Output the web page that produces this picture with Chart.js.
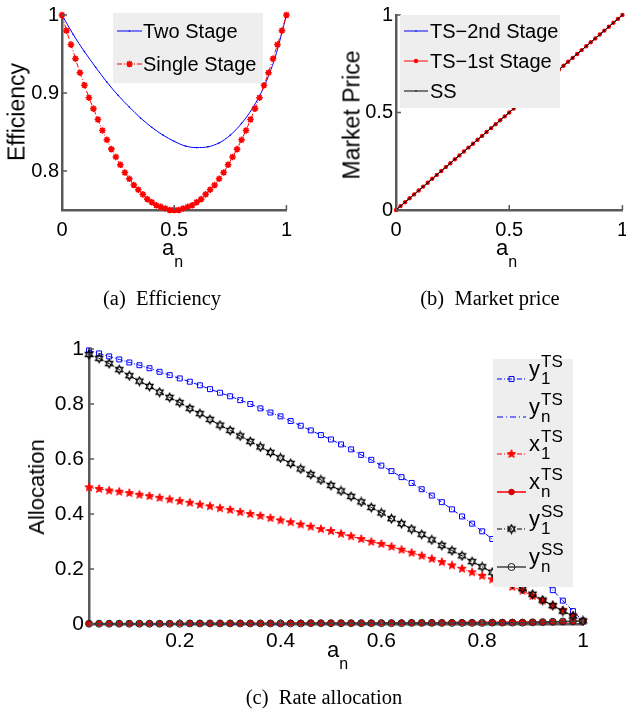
<!DOCTYPE html>
<html>
<head>
<meta charset="utf-8">
<script src="https://cdn.jsdelivr.net/npm/chart.js@4.4.1/dist/chart.umd.min.js"></script>
<style>
body{margin:0;background:#fff;width:626px;height:711px;position:relative;overflow:hidden;font-family:"Liberation Sans",Arial,sans-serif}
canvas{position:absolute}
.lab{position:absolute;color:#000;white-space:nowrap;line-height:1}
.rot{transform:translate(-50%,-50%) rotate(-90deg)}
.xt{font-size:22px}
.xt sub{font-size:16px;vertical-align:-12px;line-height:1}
.cap{position:absolute;font-family:"Liberation Serif","Times New Roman",serif;font-size:20.5px;line-height:1;transform:translateX(-50%);white-space:pre;color:#000}
</style>
</head>
<body>
<canvas id="effChart" width="300" height="245" style="left:0;top:0"></canvas>
<canvas id="priceChart" width="318" height="245" style="left:318px;top:0"></canvas>
<canvas id="allocChart" width="626" height="330" style="left:0;top:330px"></canvas>

<div class="lab rot" style="left:17px;top:112px;font-size:23px">Efficiency</div>
<div class="lab xt" style="left:162px;top:237px">a<sub>n</sub></div>
<div class="cap" style="left:162px;top:288px">(a)  Efficiency</div>

<div class="lab rot" style="left:352px;top:115px;font-size:23px">Market Price</div>
<div class="lab xt" style="left:496px;top:237px">a<sub>n</sub></div>
<div class="cap" style="left:490px;top:288px">(b)  Market price</div>

<div class="lab rot" style="left:37px;top:487px;font-size:22px">Allocation</div>
<div class="lab xt" style="left:327px;top:639px">a<sub>n</sub></div>
<div class="cap" style="left:324px;top:687px">(c)  Rate allocation</div>

<script>
// (a) efficiency
const A_EFF = [0,0.02,0.04,0.06,0.08,0.1,0.12,0.14,0.16,0.18,0.2,0.22,0.24,0.26,0.28,0.3,0.32,0.34,0.36,0.38,0.4,0.42,0.44,0.46,0.48,0.5,0.52,0.54,0.56,0.58,0.6,0.62,0.64,0.66,0.68,0.7,0.72,0.74,0.76,0.78,0.8,0.82,0.84,0.86,0.88,0.9,0.92,0.94,0.96,0.98,1];
const SINGLE_STAGE = [1,0.98,0.962,0.944,0.926,0.91,0.894,0.88,0.866,0.852,0.84,0.828,0.818,0.808,0.798,0.79,0.782,0.776,0.77,0.764,0.76,0.756,0.754,0.752,0.75,0.75,0.75,0.752,0.754,0.756,0.76,0.764,0.77,0.776,0.782,0.79,0.798,0.808,0.818,0.828,0.84,0.852,0.866,0.88,0.894,0.91,0.926,0.944,0.962,0.98,1];
const A_TWO = [0,0.05,0.1,0.15,0.2,0.25,0.3,0.35,0.4,0.45,0.5,0.55,0.6,0.65,0.7,0.75,0.8,0.85,0.9,0.95,1];
const TWO_STAGE = [1,0.975,0.953,0.933,0.914,0.897,0.882,0.868,0.856,0.846,0.838,0.832,0.83,0.831,0.836,0.846,0.861,0.881,0.908,0.946,1];

// (b) market price
const A_PRICE = [0,0.02,0.04,0.06,0.08,0.1,0.12,0.14,0.16,0.18,0.2,0.22,0.24,0.26,0.28,0.3,0.32,0.34,0.36,0.38,0.4,0.42,0.44,0.46,0.48,0.5,0.52,0.54,0.56,0.58,0.6,0.62,0.64,0.66,0.68,0.7,0.72,0.74,0.76,0.78,0.8,0.82,0.84,0.86,0.88,0.9,0.92,0.94,0.96,0.98,1];
const TS2_PRICE = [0,0.02,0.04,0.06,0.08,0.1,0.12,0.14,0.16,0.18,0.2,0.22,0.24,0.26,0.28,0.3,0.32,0.34,0.36,0.38,0.4,0.42,0.44,0.46,0.48,0.5,0.52,0.54,0.56,0.58,0.6,0.62,0.64,0.66,0.68,0.7,0.72,0.74,0.76,0.78,0.8,0.82,0.84,0.86,0.88,0.9,0.92,0.94,0.96,0.98,1];
const TS1_PRICE = [0,0.02,0.04,0.06,0.08,0.1,0.12,0.14,0.16,0.18,0.2,0.22,0.24,0.26,0.28,0.3,0.32,0.34,0.36,0.38,0.4,0.42,0.44,0.46,0.48,0.5,0.52,0.54,0.56,0.58,0.6,0.62,0.64,0.66,0.68,0.7,0.72,0.74,0.76,0.78,0.8,0.82,0.84,0.86,0.88,0.9,0.92,0.94,0.96,0.98,1];
const SS_PRICE = [0,0.02,0.04,0.06,0.08,0.1,0.12,0.14,0.16,0.18,0.2,0.22,0.24,0.26,0.28,0.3,0.32,0.34,0.36,0.38,0.4,0.42,0.44,0.46,0.48,0.5,0.52,0.54,0.56,0.58,0.6,0.62,0.64,0.66,0.68,0.7,0.72,0.74,0.76,0.78,0.8,0.82,0.84,0.86,0.88,0.9,0.92,0.94,0.96,0.98,1];

// (c) rate allocation
const A_ALLOC = [0.02,0.04,0.06,0.08,0.1,0.12,0.14,0.16,0.18,0.2,0.22,0.24,0.26,0.28,0.3,0.32,0.34,0.36,0.38,0.4,0.42,0.44,0.46,0.48,0.5,0.52,0.54,0.56,0.58,0.6,0.62,0.64,0.66,0.68,0.7,0.72,0.74,0.76,0.78,0.8,0.82,0.84,0.86,0.88,0.9,0.92,0.94,0.96,0.98,1];
const Y1_TS = [0.995,0.984,0.973,0.962,0.951,0.941,0.930,0.917,0.905,0.893,0.881,0.868,0.854,0.841,0.828,0.814,0.800,0.784,0.769,0.755,0.738,0.721,0.704,0.687,0.671,0.653,0.635,0.615,0.597,0.576,0.556,0.534,0.513,0.490,0.467,0.443,0.417,0.391,0.365,0.337,0.309,0.281,0.252,0.222,0.190,0.157,0.123,0.085,0.047,0.011];
const YN_TS = [0,0,0,0,0,0,0,0,0,0,0,0,0,0,0,0,0,0,0,0,0.001,0.001,0.001,0.001,0.001,0.001,0.001,0.001,0.001,0.001,0.001,0.001,0.002,0.002,0.002,0.002,0.002,0.002,0.002,0.002,0.003,0.003,0.003,0.003,0.004,0.005,0.006,0.008,0.009,0.011];
const X1_TS = [0.497,0.491,0.485,0.481,0.476,0.470,0.465,0.459,0.453,0.447,0.441,0.434,0.428,0.421,0.415,0.407,0.400,0.393,0.385,0.377,0.370,0.362,0.354,0.345,0.338,0.328,0.319,0.309,0.299,0.291,0.281,0.270,0.259,0.248,0.237,0.225,0.213,0.201,0.188,0.175,0.162,0.149,0.135,0.121,0.102,0.085,0.068,0.050,0.030,0.011];
const XN_TS = [0.002,0.002,0.002,0.002,0.002,0.002,0.002,0.002,0.002,0.003,0.003,0.003,0.003,0.003,0.003,0.003,0.003,0.003,0.003,0.003,0.004,0.004,0.004,0.004,0.004,0.004,0.004,0.004,0.004,0.005,0.005,0.005,0.005,0.005,0.005,0.005,0.006,0.006,0.006,0.006,0.006,0.006,0.007,0.007,0.007,0.007,0.008,0.008,0.009,0.011];
const Y1_SS = [0.980,0.966,0.947,0.925,0.903,0.883,0.864,0.843,0.824,0.805,0.784,0.765,0.744,0.723,0.704,0.684,0.664,0.644,0.624,0.604,0.584,0.564,0.544,0.524,0.504,0.484,0.464,0.444,0.424,0.404,0.383,0.365,0.345,0.326,0.306,0.286,0.267,0.248,0.227,0.208,0.188,0.168,0.148,0.128,0.108,0.087,0.067,0.047,0.029,0.011];
const YN_SS = [0.001,0.001,0.001,0.001,0.001,0.001,0.001,0.001,0.001,0.001,0.002,0.002,0.002,0.002,0.002,0.002,0.002,0.002,0.002,0.002,0.002,0.002,0.003,0.003,0.003,0.003,0.003,0.003,0.003,0.003,0.003,0.003,0.004,0.004,0.004,0.004,0.004,0.004,0.004,0.004,0.005,0.005,0.005,0.005,0.006,0.007,0.008,0.009,0.010,0.011];

const TICKS_EFF_X = [0, 0.5, 1];
const TICKS_EFF_Y = [0.8, 0.9, 1];
const TICKS_PRICE = [0, 0.5, 1];
const TICKS_ALLOC_X = [0.2, 0.4, 0.6, 0.8, 1];
const TICKS_ALLOC_Y = [0, 0.2, 0.4, 0.6, 0.8, 1];

const FONT = 'Liberation Sans';
const AXIS_COLOR = '#5a5a5a';

function pairs(xs, ys) {
    return xs.map((x, i) => ({x: x, y: ys[i]}));
}

// star shaped marker drawn once on a small canvas
function starMarker(points, rOut, rIn, fill, stroke, lw) {
    const c = document.createElement('canvas');
    const s = Math.ceil(2 * rOut + 3);
    c.width = s; c.height = s;
    const g = c.getContext('2d');
    g.beginPath();
    for (let i = 0; i < points * 2; i++) {
        const r = i % 2 ? rIn : rOut;
        const ang = -Math.PI / 2 + i * Math.PI / points;
        g.lineTo(s / 2 + r * Math.cos(ang), s / 2 + r * Math.sin(ang));
    }
    g.closePath();
    if (fill) { g.fillStyle = fill; g.fill(); }
    if (stroke) { g.strokeStyle = stroke; g.lineWidth = lw || 1; g.stroke(); }
    return c;
}
const pentagram = starMarker(5, 4.3, 1.8, '#ff0000', '#ff0000');
const hexagram = starMarker(6, 4, 2.3, null, '#000000', 1.4);

function axis(min, max, ticks, size, pad, fontSize) {
    return {
        type: 'linear', min: min, max: max,
        afterBuildTicks: s => { s.ticks = ticks.map(v => ({value: v})); },
        afterFit: s => { if (s.isHorizontal()) s.height = size; else s.width = size; },
        grid: {display: false, drawTicks: false},
        border: {display: true, color: AXIS_COLOR, width: 2.5},
        ticks: {color: '#000', padding: pad, maxRotation: 0, autoSkip: false,
                font: {family: FONT, size: fontSize}, callback: v => String(v)}
    };
}

// MATLAB style inward tick marks
const inTicks = {
    id: 'inTicks',
    afterDatasetsDraw(chart) {
        const ctx = chart.ctx, area = chart.chartArea;
        ctx.save();
        ctx.strokeStyle = AXIS_COLOR;
        ctx.lineWidth = 1.5;
        ctx.beginPath();
        chart.scales.x.ticks.forEach(t => {
            const px = chart.scales.x.getPixelForValue(t.value);
            ctx.moveTo(px, area.bottom); ctx.lineTo(px, area.bottom - 5);
        });
        chart.scales.y.ticks.forEach(t => {
            const py = chart.scales.y.getPixelForValue(t.value);
            ctx.moveTo(area.left, py); ctx.lineTo(area.left + 5, py);
        });
        ctx.stroke();
        ctx.restore();
    }
};

// legend box inside the axes
const boxLegend = {
    id: 'boxLegend',
    afterDraw(chart, args, o) {
        if (!o.items) return;
        const ctx = chart.ctx;
        ctx.save();
        ctx.fillStyle = '#eeeeee';
        ctx.fillRect(o.x, o.y, o.w, o.h);
        o.items.forEach((it, i) => {
            const ds = chart.data.datasets[it.dataset];
            const y = o.rows[i];
            ctx.strokeStyle = ds.borderColor;
            ctx.lineWidth = ds.borderWidth;
            ctx.setLineDash(ds.borderDash || []);
            ctx.beginPath();
            ctx.moveTo(o.lineX0, y); ctx.lineTo(o.lineX1, y);
            ctx.stroke();
            ctx.setLineDash([]);
            if (ds.pointRadius > 0) {
                ctx.fillStyle = ds.pointBackgroundColor;
                ctx.strokeStyle = ds.pointBorderColor;
                ctx.lineWidth = ds.pointBorderWidth;
                Chart.helpers.drawPoint(ctx, {pointStyle: ds.pointStyle, radius: ds.pointRadius,
                    borderWidth: ds.pointBorderWidth, rotation: 0}, (o.lineX0 + o.lineX1) / 2, y);
            }
            ctx.fillStyle = '#000';
            if (it.text) {
                ctx.font = o.fontSize + 'px "' + FONT + '"';
                ctx.textBaseline = 'middle';
                ctx.fillText(it.text, o.textX, y + 1);
            } else {
                ctx.textBaseline = 'alphabetic';
                ctx.font = '22px "' + FONT + '"';
                ctx.fillText(it.base, o.textX, y - 3.5);
                ctx.font = '17px "' + FONT + '"';
                ctx.fillText(it.sup, o.textX + 12, y - 12);
                ctx.fillText(it.sub, o.textX + 12, y + 5);
            }
        });
        ctx.restore();
    }
};

const common = {
    responsive: false,
    animation: false,
    events: []
};

// (a) Efficiency
new Chart(document.getElementById('effChart').getContext('2d'), {
    type: 'line',
    data: {
        datasets: [{
            label: 'Two Stage',
            data: pairs(A_TWO, TWO_STAGE),
            borderColor: '#0000ff', borderWidth: 1,
            pointRadius: 0.8, pointStyle: 'circle', pointBackgroundColor: '#0000ff', pointBorderColor: '#0000ff', pointBorderWidth: 0,
            cubicInterpolationMode: 'monotone', clip: false, order: 2
        }, {
            label: 'Single Stage',
            data: pairs(A_EFF, SINGLE_STAGE),
            borderColor: '#ff0000', borderWidth: 1, borderDash: [5, 2, 1, 2],
            pointRadius: 3.3, pointStyle: 'star', pointBackgroundColor: '#ff0000', pointBorderColor: '#ff0000', pointBorderWidth: 1.6,
            clip: false, order: 1
        }]
    },
    options: Object.assign({}, common, {
        layout: {padding: {top: 13, right: 11, left: 0, bottom: 0}},
        scales: {
            x: axis(0, 1, TICKS_EFF_X, 35, 8, 20),
            y: axis(0.75, 1, TICKS_EFF_Y, 62, 3, 20)
        },
        plugins: {
            legend: {display: false}, tooltip: {enabled: false},
            boxLegend: {x: 113, y: 13, w: 150, h: 70, lineX0: 117, lineX1: 142, textX: 143, fontSize: 20,
                rows: [31, 64], items: [{dataset: 0, text: 'Two Stage'}, {dataset: 1, text: 'Single Stage'}]}
        }
    }),
    plugins: [inTicks, boxLegend]
});

// (b) Market price
new Chart(document.getElementById('priceChart').getContext('2d'), {
    type: 'line',
    data: {
        datasets: [{
            label: 'TS\u22122nd Stage',
            data: pairs(A_PRICE, TS2_PRICE),
            borderColor: '#0000ff', borderWidth: 1,
            pointRadius: 0.8, pointStyle: 'circle', pointBackgroundColor: '#0000ff', pointBorderColor: '#0000ff', pointBorderWidth: 0,
            clip: false, order: 3
        }, {
            label: 'TS\u22121st Stage',
            data: pairs(A_PRICE, TS1_PRICE),
            borderColor: '#ff0000', borderWidth: 1,
            pointRadius: 2.2, pointStyle: 'circle', pointBackgroundColor: '#ff0000', pointBorderColor: '#ff0000', pointBorderWidth: 0,
            clip: false, order: 2
        }, {
            label: 'SS',
            data: pairs(A_PRICE, SS_PRICE),
            borderColor: '#000000', borderWidth: 1,
            pointRadius: 0.8, pointStyle: 'circle', pointBackgroundColor: '#000', pointBorderColor: '#000', pointBorderWidth: 0,
            clip: false, order: 1
        }]
    },
    options: Object.assign({}, common, {
        layout: {padding: {top: 13, right: 13, left: 0, bottom: 0}},
        scales: {
            x: axis(0, 1, TICKS_PRICE, 35, 8, 20),
            y: axis(0, 1, TICKS_PRICE, 78, 3, 20)
        },
        plugins: {
            legend: {display: false}, tooltip: {enabled: false},
            boxLegend: {x: 400 - 318, y: 15, w: 160, h: 93, lineX0: 404 - 318, lineX1: 428 - 318, textX: 430 - 318, fontSize: 20,
                rows: [31, 61, 91], items: [{dataset: 0, text: 'TS\u22122nd Stage'}, {dataset: 1, text: 'TS\u22121st Stage'}, {dataset: 2, text: 'SS'}]}
        }
    }),
    plugins: [inTicks, boxLegend]
});

// (c) Rate allocation
new Chart(document.getElementById('allocChart').getContext('2d'), {
    type: 'line',
    data: {
        datasets: [{
            label: 'y1 TS',
            data: pairs(A_ALLOC, Y1_TS),
            borderColor: '#0000ff', borderWidth: 1, borderDash: [5, 2, 1, 2],
            pointRadius: 3.5, pointStyle: 'rect', pointBackgroundColor: 'rgba(0,0,0,0)', pointBorderColor: '#0000ff', pointBorderWidth: 1,
            clip: false, order: 6
        }, {
            label: 'yn TS',
            data: pairs(A_ALLOC, YN_TS),
            borderColor: '#0000ff', borderWidth: 1, borderDash: [6, 3, 1, 3],
            pointRadius: 0, clip: false, order: 5
        }, {
            label: 'x1 TS',
            data: pairs(A_ALLOC, X1_TS),
            borderColor: '#ff0000', borderWidth: 1, borderDash: [5, 2, 1, 2],
            pointRadius: 4.3, pointStyle: pentagram, pointBackgroundColor: '#ff0000', pointBorderColor: '#ff0000', pointBorderWidth: 1,
            clip: false, order: 4
        }, {
            label: 'xn TS',
            data: pairs(A_ALLOC, XN_TS),
            borderColor: '#ff0000', borderWidth: 1.5,
            pointRadius: 2.8, pointStyle: 'circle', pointBackgroundColor: '#d00000', pointBorderColor: '#d00000', pointBorderWidth: 1,
            clip: false, order: 3
        }, {
            label: 'y1 SS',
            data: pairs(A_ALLOC, Y1_SS),
            borderColor: '#000000', borderWidth: 1, borderDash: [5, 2, 1, 2],
            pointRadius: 4, pointStyle: hexagram, pointBackgroundColor: 'rgba(0,0,0,0)', pointBorderColor: '#000', pointBorderWidth: 1,
            clip: false, order: 2
        }, {
            label: 'yn SS',
            data: pairs(A_ALLOC, YN_SS),
            borderColor: '#444444', borderWidth: 1.5,
            pointRadius: 3.5, pointStyle: 'circle', pointBackgroundColor: 'rgba(0,0,0,0)', pointBorderColor: '#222', pointBorderWidth: 1,
            clip: false, order: 1
        }]
    },
    options: Object.assign({}, common, {
        layout: {padding: {top: 19, right: 43, left: 0, bottom: 0}},
        scales: {
            x: axis(0.02, 1, TICKS_ALLOC_X, 36, 5, 21),
            y: axis(0, 1, TICKS_ALLOC_Y, 89, 5, 21)
        },
        plugins: {
            legend: {display: false}, tooltip: {enabled: false},
            boxLegend: {x: 493, y: 359 - 330, w: 80, h: 228, lineX0: 497, lineX1: 526, textX: 529,
                rows: [49, 87, 124, 162, 199, 237],
                items: [
                    {dataset: 0, base: 'y', sub: '1', sup: 'TS'},
                    {dataset: 1, base: 'y', sub: 'n', sup: 'TS'},
                    {dataset: 2, base: 'x', sub: '1', sup: 'TS'},
                    {dataset: 3, base: 'x', sub: 'n', sup: 'TS'},
                    {dataset: 4, base: 'y', sub: '1', sup: 'SS'},
                    {dataset: 5, base: 'y', sub: 'n', sup: 'SS'}
                ]}
        }
    }),
    plugins: [inTicks, boxLegend]
});
</script>
</body>
</html>
